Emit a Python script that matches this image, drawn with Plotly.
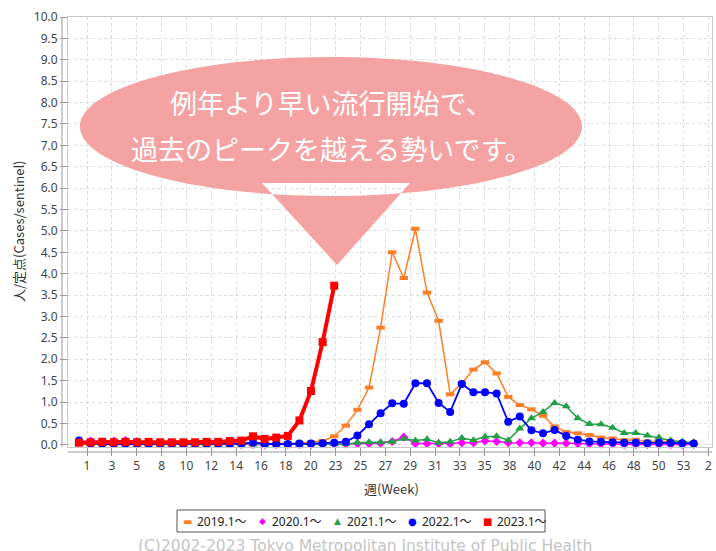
import plotly.graph_objects as go

# ---------------- data ----------------
weeks = list(range(1, 55))

y2019 = [0.03, 0.03, 0.02, 0.03, 0.02, 0.02, 0.02, 0.02, 0.02, 0.02,
         0.02, 0.02, 0.02, 0.02, 0.02, 0.02, 0.03, 0.03, 0.04, 0.05,
         0.06, 0.09, 0.20, 0.45, 0.82, 1.34, 2.74, 4.50, 3.90, 5.05,
         3.56, 2.90, 1.18, 1.44, 1.76, 1.93, 1.67, 1.12, 0.93, 0.83,
         0.68, 0.43, 0.30, 0.27, 0.23, 0.17, 0.15, 0.11, 0.12, 0.08,
         0.08, 0.08, 0.05]

y2020 = [0.06, 0.09, 0.07, 0.09, 0.10, 0.08, 0.05, 0.04, 0.03, 0.03,
         0.03, 0.02, 0.02, 0.02, 0.01, 0.01, 0.01, 0.01, 0.01, 0.01,
         0.01, 0.02, 0.02, 0.02, 0.03, 0.03, 0.04, 0.08, 0.18, 0.03,
         0.03, 0.03, 0.03, 0.05, 0.05, 0.09, 0.08, 0.05, 0.05, 0.05,
         0.04, 0.04, 0.04, 0.03, 0.02, 0.02, 0.02, 0.01, 0.01, 0.01,
         0.01, 0.01, 0.01, 0.01]

y2021 = [0.02, 0.02, 0.02, 0.02, 0.02, 0.01, 0.01, 0.01, 0.01, 0.01,
         0.01, 0.01, 0.01, 0.01, 0.01, 0.01, 0.01, 0.01, 0.01, 0.01,
         0.02, 0.02, 0.02, 0.02, 0.05, 0.06, 0.06, 0.07, 0.14, 0.10,
         0.13, 0.05, 0.07, 0.16, 0.11, 0.19, 0.20, 0.11, 0.38, 0.62,
         0.77, 0.98, 0.90, 0.62, 0.49, 0.48, 0.40, 0.28, 0.28, 0.22,
         0.17, 0.10, 0.07, 0.06]

y2022 = [0.10, 0.03, 0.02, 0.02, 0.02, 0.02, 0.02, 0.02, 0.02, 0.02,
         0.02, 0.02, 0.02, 0.02, 0.03, 0.06, 0.02, 0.02, 0.02, 0.03,
         0.03, 0.04, 0.05, 0.07, 0.22, 0.48, 0.74, 0.97, 0.96, 1.44,
         1.44, 0.98, 0.77, 1.42, 1.23, 1.23, 1.20, 0.54, 0.66, 0.34,
         0.27, 0.35, 0.21, 0.12, 0.08, 0.07, 0.06, 0.05, 0.05, 0.04,
         0.05, 0.05, 0.04, 0.03]

y2023 = [0.05, 0.06, 0.07, 0.06, 0.07, 0.06, 0.07, 0.06, 0.06, 0.06,
         0.06, 0.07, 0.07, 0.09, 0.10, 0.20, 0.14, 0.17, 0.21, 0.57,
         1.26, 2.40, 3.72]

series_names = ["2019.1～", "2020.1～", "2021.1～", "2022.1～", "2023.1～"]

x_tick_labels = ["1", "3", "5", "8", "10", "12", "14", "16", "18", "20",
                 "23", "25", "27", "29", "31", "33", "35", "38", "40", "42",
                 "44", "46", "48", "50", "53", "2"]
y_tick_values = [i * 0.5 for i in range(21)]

callout_line1 = "例年より早い流行開始で、"
callout_line2 = "過去のピークを越える勢いです。"
x_title = "週(Week)"
y_title = "人/定点(Cases/sentinel)"
credit = "(C)2002-2023 Tokyo Metropolitan Institute of Public Health"

# ---------------- layout helpers (pixel -> paper) ----------------
W, H = 716, 551
L, R, T, B = 68, 712, 17, 447


def px(x):
    return (x - L) / (R - L)


def py(y):
    return (B - y) / (B - T)


# ticks every 15 days (in week units)
x_tick_pos = [1.69 + k * (15 / 7) for k in range(len(x_tick_labels))]

JP = "Noto Sans CJK JP, Noto Sans, sans-serif"
NUM = "Noto Sans, Noto Sans CJK JP, sans-serif"

styles = [
    dict(color="#FF7F27", symbol="line-ew", size=6, lw=1.5, mline=4,
         glyph="▬", gsize=10),
    dict(color="#FF00FF", symbol="diamond", size=7, lw=1.5, mline=0,
         glyph="◆", gsize=9),
    dict(color="#22A046", symbol="triangle-up", size=8, lw=1.5, mline=0,
         glyph="▲", gsize=9),
    dict(color="#0000FF", symbol="circle", size=8, lw=1.8, mline=0,
         glyph="●", gsize=10),
    dict(color="#FF0000", symbol="square", size=8, lw=4, mline=0,
         glyph="■", gsize=10),
]
data = [y2019, y2020, y2021, y2022, y2023]

fig = go.Figure()
for name, ys, st in zip(series_names, data, styles):
    marker = dict(color=st["color"], symbol=st["symbol"], size=st["size"])
    if st["mline"]:
        marker["line"] = dict(color=st["color"], width=st["mline"])
    fig.add_trace(go.Scatter(
        x=weeks[:len(ys)], y=ys, mode="lines+markers", name=name,
        line=dict(color=st["color"], width=st["lw"]),
        marker=marker, showlegend=False, cliponaxis=False))

# callout bubble: ellipse (bezier) + pointer triangle, one path
cx, cy, rx, ry = 331, 126.5, 251, 69.5
k = 0.5523


def P(x, y):
    return f"{px(x):.5f},{py(y):.5f}"


path = (
    f"M {P(cx + rx, cy)} "
    f"C {P(cx + rx, cy + k * ry)} {P(cx + k * rx, cy + ry)} {P(cx, cy + ry)} "
    f"C {P(cx - k * rx, cy + ry)} {P(cx - rx, cy + k * ry)} {P(cx - rx, cy)} "
    f"C {P(cx - rx, cy - k * ry)} {P(cx - k * rx, cy - ry)} {P(cx, cy - ry)} "
    f"C {P(cx + k * rx, cy - ry)} {P(cx + rx, cy - k * ry)} {P(cx + rx, cy)} Z "
    f"M {P(410, 183)} L {P(337, 265)} L {P(262, 183)} Z"
)

shapes = [
    dict(type="path", xref="paper", yref="paper", path=path,
         fillcolor="rgb(244,152,152)", opacity=0.9, line=dict(width=0),
         layer="above"),
    # offset axis lines
    dict(type="line", xref="paper", yref="paper",
         x0=px(62), x1=px(62), y0=py(T), y1=py(B),
         line=dict(color="#999999", width=1)),
    dict(type="line", xref="paper", yref="paper",
         x0=px(L), x1=px(R), y0=py(452), y1=py(452),
         line=dict(color="#999999", width=1)),
    # legend box
    dict(type="rect", xref="paper", yref="paper",
         x0=px(177), x1=px(545), y0=py(510), y1=py(532),
         line=dict(color="#555555", width=1), fillcolor="white"),
]

annotations = [
    dict(text=callout_line1, x=px(331), y=py(103), xref="paper", yref="paper",
         showarrow=False, font=dict(family=JP, size=27, color="white"),
         xanchor="center", yanchor="middle"),
    dict(text=callout_line2, x=px(331), y=py(148), xref="paper", yref="paper",
         showarrow=False, font=dict(family=JP, size=27, color="white"),
         xanchor="center", yanchor="middle"),
    dict(text=x_title, x=px(392), y=py(488), xref="paper", yref="paper",
         showarrow=False, font=dict(family=JP, size=13, color="#333333"),
         xanchor="center", yanchor="middle"),
    dict(text=y_title, x=px(18), y=py(232), xref="paper", yref="paper",
         showarrow=False, textangle=-90,
         font=dict(family=JP, size=13, color="#333333"),
         xanchor="center", yanchor="middle"),
    dict(text=credit, x=px(365), y=py(545.5), xref="paper", yref="paper",
         showarrow=False,
         font=dict(family="DejaVu Sans, sans-serif", size=15.5, color="#c4c4c4"),
         xanchor="center", yanchor="middle"),
]

# hand-built legend (marker glyph + label)
legend_sym_x = [187, 262, 337, 412, 487]
for name, st, sx in zip(series_names, styles, legend_sym_x):
    annotations.append(dict(
        text=st["glyph"], x=px(sx), y=py(521), xref="paper", yref="paper",
        showarrow=False, xanchor="center", yanchor="middle",
        font=dict(family="DejaVu Sans, sans-serif", size=st["gsize"],
                  color=st["color"])))
    annotations.append(dict(
        text=name, x=px(sx + 8), y=py(521), xref="paper", yref="paper",
        showarrow=False, xanchor="left", yanchor="middle",
        font=dict(family=NUM, size=12, color="#222222")))

fig.update_layout(
    width=W, height=H,
    margin=dict(l=L, r=W - R, t=T, b=H - B, autoexpand=False),
    paper_bgcolor="white", plot_bgcolor="white",
    shapes=shapes, annotations=annotations,
    showlegend=False,
    xaxis=dict(range=[0.05, 55.57], tickmode="array", tickvals=x_tick_pos,
               ticktext=x_tick_labels, ticks="outside", ticklen=8,
               tickcolor="#999999", showline=True, mirror=True,
               linecolor="#c8c8c8", linewidth=1, automargin=False,
               showgrid=True, gridcolor="#dcdcdc", griddash="3px,3px",
               zeroline=False,
               tickfont=dict(family=NUM, size=12, color="#444444")),
    yaxis=dict(range=[-0.05, 10.0], tickmode="array", tickvals=y_tick_values,
               tickformat=".1f", ticks="outside", ticklen=7,
               tickcolor="#999999", showline=True, mirror=True,
               linecolor="#c8c8c8", linewidth=1, automargin=False,
               showgrid=True, gridcolor="#dcdcdc", griddash="3px,3px",
               zeroline=False,
               tickfont=dict(family=NUM, size=12, color="#444444")),
)

fig.write_html(
    "out.html",
    config={"displayModeBar": False},
    post_script="document.body.style.margin='0';"
                "document.body.style.overflow='hidden';",
)
